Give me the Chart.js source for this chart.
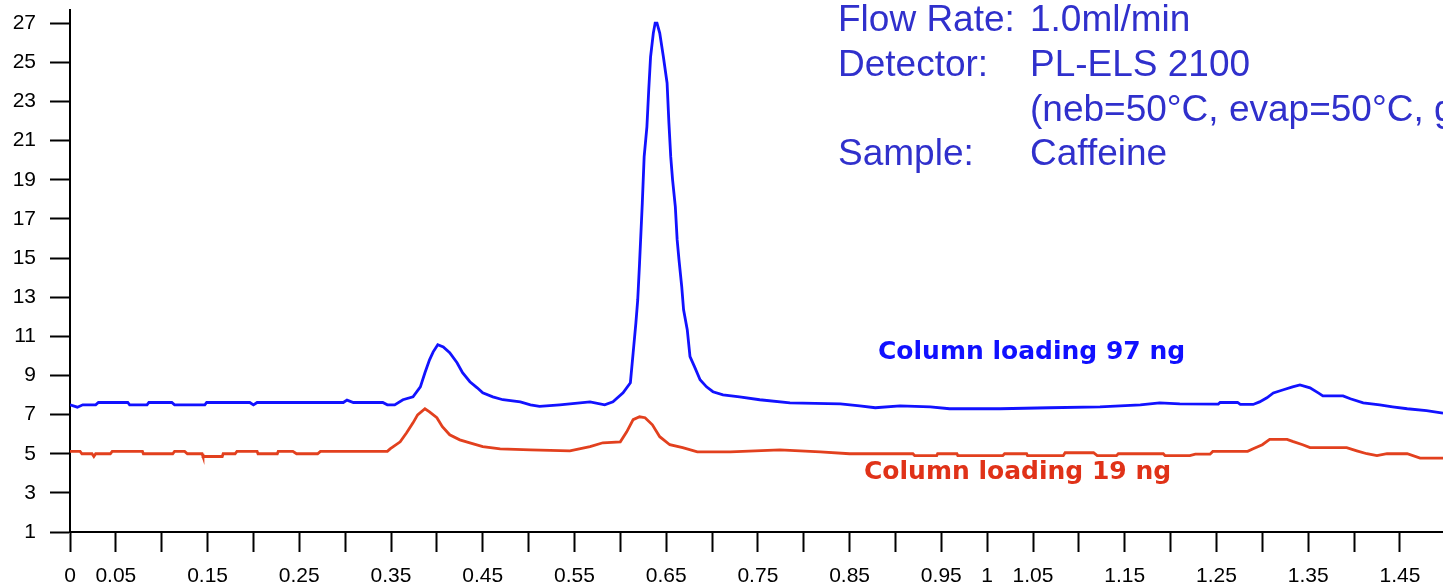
<!DOCTYPE html>
<html>
<head>
<meta charset="utf-8">
<title>Caffeine ELSD chromatogram</title>
<script src="https://cdn.jsdelivr.net/npm/chart.js@4.4.1/dist/chart.umd.min.js"></script>
<style>
  html, body { margin: 0; padding: 0; background: #ffffff; }
  #wrap { width: 1443px; height: 585px; }
</style>
</head>
<body>
<div id="wrap"><canvas id="chrom" width="1443" height="585"></canvas></div>
<script>
// Retention time (min) and detector response for the 97 ng injection
const blueTime = [
  0.000, 0.008, 0.014, 0.028, 0.031, 0.063, 0.065, 0.084, 0.086, 0.111,
  0.114, 0.147, 0.149, 0.196, 0.200, 0.204, 0.298, 0.302, 0.309, 0.341,
  0.346, 0.354, 0.363, 0.374, 0.382, 0.387, 0.392, 0.396, 0.401, 0.407,
  0.414, 0.422, 0.428, 0.436, 0.444, 0.450, 0.461, 0.472, 0.491, 0.502,
  0.512, 0.534, 0.567, 0.583, 0.592, 0.603, 0.611, 0.614, 0.617, 0.619,
  0.621, 0.624, 0.626, 0.629, 0.631, 0.633, 0.636, 0.638, 0.640, 0.643,
  0.647, 0.651, 0.653, 0.655, 0.657, 0.660, 0.662, 0.664, 0.667, 0.669,
  0.673, 0.676, 0.681, 0.687, 0.694, 0.701, 0.712, 0.730, 0.752, 0.785,
  0.840, 0.861, 0.878, 0.905, 0.938, 0.959, 1.014, 1.068, 1.123, 1.167,
  1.188, 1.210, 1.252, 1.254, 1.273, 1.276, 1.290, 1.297, 1.305, 1.312,
  1.323, 1.333, 1.341, 1.352, 1.361, 1.366, 1.388, 1.396, 1.410, 1.428,
  1.442, 1.458, 1.479, 1.497
];
const blueSignal = [
  7.50, 7.38, 7.50, 7.50, 7.62, 7.62, 7.50, 7.50, 7.62, 7.62,
  7.50, 7.50, 7.62, 7.62, 7.50, 7.62, 7.62, 7.74, 7.62, 7.62,
  7.50, 7.50, 7.76, 7.91, 8.42, 9.14, 9.80, 10.21, 10.57, 10.46,
  10.16, 9.65, 9.14, 8.68, 8.37, 8.11, 7.91, 7.76, 7.65, 7.50,
  7.42, 7.50, 7.65, 7.50, 7.65, 8.11, 8.63, 10.16, 11.69, 12.86,
  14.75, 17.82, 20.17, 21.70, 23.59, 25.28, 26.50, 27.01, 27.01, 26.50,
  25.28, 23.95, 21.91, 20.17, 19.00, 17.62, 15.93, 14.91, 13.53, 12.36,
  11.34, 9.96, 9.44, 8.78, 8.42, 8.17, 8.01, 7.91, 7.76, 7.60,
  7.55, 7.45, 7.35, 7.45, 7.40, 7.30, 7.30, 7.35, 7.40, 7.50,
  7.60, 7.55, 7.54, 7.62, 7.62, 7.52, 7.52, 7.65, 7.86, 8.11,
  8.27, 8.42, 8.52, 8.37, 8.11, 7.96, 7.96, 7.81, 7.60, 7.50,
  7.40, 7.30, 7.20, 7.07
];

// Retention time (min) and detector response for the 19 ng injection
const redTime = [
  0.000, 0.011, 0.013, 0.024, 0.026, 0.028, 0.044, 0.046, 0.079, 0.080,
  0.112, 0.114, 0.125, 0.128, 0.144, 0.145, 0.166, 0.167, 0.180, 0.182,
  0.204, 0.205, 0.226, 0.227, 0.243, 0.247, 0.270, 0.273, 0.346, 0.349,
  0.360, 0.367, 0.374, 0.379, 0.387, 0.392, 0.400, 0.406, 0.414, 0.425,
  0.436, 0.450, 0.469, 0.502, 0.545, 0.567, 0.581, 0.600, 0.607, 0.614,
  0.621, 0.627, 0.635, 0.643, 0.654, 0.668, 0.684, 0.720, 0.774, 0.818,
  0.850, 0.919, 0.921, 0.945, 0.946, 0.967, 0.968, 1.017, 1.019, 1.043,
  1.044, 1.083, 1.085, 1.116, 1.120, 1.141, 1.143, 1.192, 1.194, 1.221,
  1.227, 1.243, 1.246, 1.284, 1.290, 1.300, 1.308, 1.327, 1.333, 1.344,
  1.352, 1.392, 1.403, 1.414, 1.425, 1.436, 1.458, 1.472, 1.497
];
const redSignal = [
  5.12, 5.12, 5.00, 5.00, 4.86, 5.00, 5.00, 5.12, 5.12, 5.00,
  5.00, 5.12, 5.12, 5.00, 5.00, 4.86, 4.86, 5.00, 5.00, 5.12,
  5.12, 5.00, 5.00, 5.12, 5.12, 5.00, 5.00, 5.12, 5.12, 5.25,
  5.61, 6.07, 6.58, 6.99, 7.30, 7.14, 6.84, 6.38, 5.97, 5.71,
  5.56, 5.36, 5.25, 5.20, 5.15, 5.36, 5.56, 5.61, 6.12, 6.74,
  6.89, 6.84, 6.48, 5.87, 5.46, 5.31, 5.10, 5.10, 5.20, 5.10,
  5.00, 5.00, 4.90, 4.90, 5.00, 5.00, 4.90, 4.90, 5.00, 5.00,
  4.90, 4.90, 5.05, 5.05, 4.90, 4.90, 5.00, 5.00, 4.90, 4.90,
  4.98, 4.98, 5.12, 5.12, 5.25, 5.46, 5.73, 5.73, 5.63, 5.46,
  5.31, 5.31, 5.15, 5.00, 4.90, 5.00, 5.00, 4.78, 4.78
];

// Axis ticks
const xTickValues = [
  0, 0.05, 0.1, 0.15, 0.2, 0.25, 0.3, 0.35, 0.4, 0.45,
  0.5, 0.55, 0.6, 0.65, 0.7, 0.75, 0.8, 0.85, 0.9, 0.95,
  1.0, 1.05, 1.1, 1.15, 1.2, 1.25, 1.3, 1.35, 1.4, 1.45
];
const xTickLabels = [
  '0', '0.05', '', '0.15', '', '0.25', '', '0.35', '', '0.45',
  '', '0.55', '', '0.65', '', '0.75', '', '0.85', '', '0.95',
  '1', '1.05', '', '1.15', '', '1.25', '', '1.35', '', '1.45'
];
const yTickValues = [1, 3, 5, 7, 9, 11, 13, 15, 17, 19, 21, 23, 25, 27];

// Series captions and method notes
const seriesNames = ['Column loading 97 ng', 'Column loading 19 ng'];
const methodRows = [
  ['Flow Rate:', '1.0ml/min'],
  ['Detector:', 'PL-ELS 2100'],
  ['', '(neb=50°C, evap=50°C, gas=1.6 SLM)'],
  ['Sample:', 'Caffeine']
];

const BLUE = '#1212ff';
const RED = '#e2401e';
const TICK_FONT = { family: '"Liberation Sans", Arial, sans-serif', size: 21 };

const toPoints = (xs, ys) => xs.map((x, i) => ({ x: x, y: ys[i] }));

const notesPlugin = {
  id: 'notes',
  afterDraw(chart) {
    const ctx = chart.ctx;
    ctx.save();
    // method notes, top right
    ctx.fillStyle = '#3030cc';
    ctx.font = '37px "Liberation Sans", Arial, sans-serif';
    ctx.textBaseline = 'alphabetic';
    ctx.textAlign = 'left';
    const baselines = [31, 76, 121, 165];
    methodRows.forEach((row, i) => {
      if (row[0]) ctx.fillText(row[0], 838, baselines[i]);
      ctx.fillText(row[1], 1030, baselines[i]);
    });
    // trace captions
    ctx.font = 'bold 25px "DejaVu Sans", sans-serif';
    ctx.fillStyle = '#1010ff';
    ctx.fillText(seriesNames[0], 878, 359);
    ctx.fillStyle = '#e03218';
    ctx.fillText(seriesNames[1], 864, 479);
    ctx.restore();
  }
};

new Chart(document.getElementById('chrom'), {
  type: 'line',
  data: {
    datasets: [
      {
        label: seriesNames[0],
        data: toPoints(blueTime, blueSignal),
        borderColor: BLUE,
        borderWidth: 2.8,
        pointRadius: 0,
        tension: 0,
        fill: false
      },
      {
        label: seriesNames[1],
        data: toPoints(redTime, redSignal),
        borderColor: RED,
        borderWidth: 2.8,
        pointRadius: 0,
        tension: 0,
        fill: false
      }
    ]
  },
  options: {
    responsive: false,
    devicePixelRatio: 1,
    animation: false,
    layout: { padding: { top: 10, left: 0, right: 0, bottom: 0 } },
    plugins: {
      legend: { display: false },
      tooltip: { enabled: false }
    },
    scales: {
      x: {
        type: 'linear',
        min: 0,
        max: 1.497,
        afterBuildTicks(scale) {
          scale.ticks = xTickValues.map(v => ({ value: v }));
        },
        afterFit(scale) {
          scale.height = 53;
          scale.paddingLeft = 0;
          scale.paddingRight = 0;
        },
        grid: {
          drawOnChartArea: false,
          drawTicks: true,
          tickLength: 20,
          tickColor: '#000000',
          tickWidth: 2
        },
        border: { display: true, color: '#000000', width: 2 },
        ticks: {
          autoSkip: false,
          maxRotation: 0,
          minRotation: 0,
          padding: 12,
          color: '#000000',
          font: TICK_FONT,
          callback: (value, index) => xTickLabels[index]
        }
      },
      y: {
        type: 'linear',
        min: 1,
        max: 27.68,
        afterBuildTicks(scale) {
          scale.ticks = yTickValues.map(v => ({ value: v }));
        },
        afterFit(scale) {
          scale.width = 70;
          scale.paddingTop = 0;
          scale.paddingBottom = 0;
        },
        grid: {
          drawOnChartArea: false,
          drawTicks: true,
          tickLength: 20,
          tickColor: '#000000',
          tickWidth: 2
        },
        border: { display: true, color: '#000000', width: 2 },
        ticks: {
          autoSkip: false,
          padding: 14,
          color: '#000000',
          font: TICK_FONT,
          callback: (value) => String(value)
        }
      }
    }
  },
  plugins: [notesPlugin]
});
</script>
</body>
</html>
